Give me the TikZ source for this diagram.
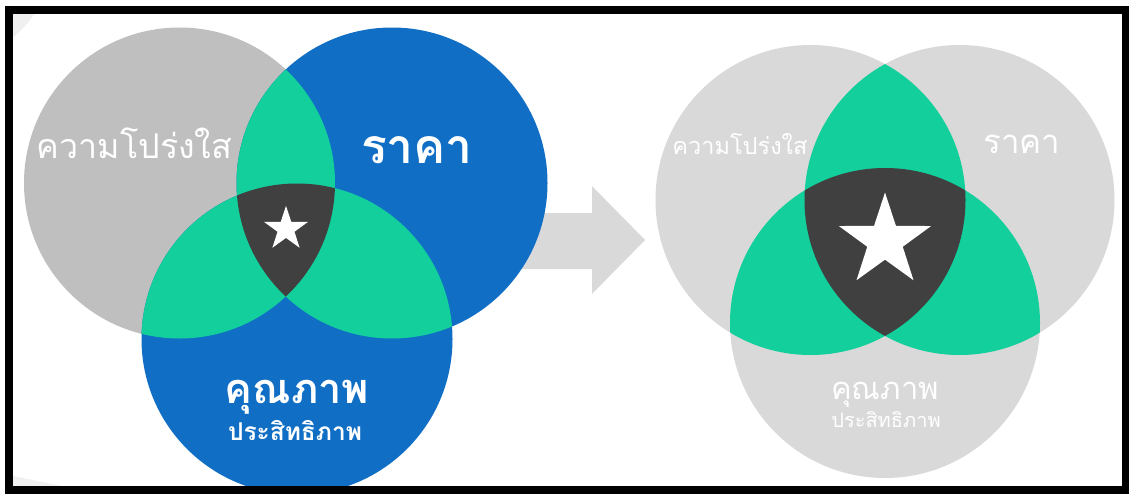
\documentclass[tikz,border=0pt]{standalone}
\usepackage{fontspec}
\newfontfamily\thaifont[Script=Thai]{Loma}
\definecolor{venn_blue}{RGB}{16, 110, 197}
\definecolor{venn_gray}{RGB}{191, 191, 191}
\definecolor{venn_green}{RGB}{18, 207, 155}
\definecolor{venn_dark}{RGB}{64, 64, 64}
\definecolor{venn_light}{RGB}{217, 217, 217}
\definecolor{venn_faint}{RGB}{240, 240, 240}
\usetikzlibrary{shapes.geometric}

\begin{document}
\begin{tikzpicture}[x=1pt, y=-1pt,
    lbl/.style={text=white, inner sep=0pt, anchor=base},
    starmark/.style={star, star points=5, star point ratio=2.6,
      fill=white, inner sep=0pt}]
  \useasboundingbox (0,0) rectangle (1129,493);
  \fill[white] (0,0) rectangle (1129,493);

  % --- faint slide background ---
  \begin{scope}
    \clip (13,13) rectangle (1121,486);
    \fill[venn_faint] (-60,-50) circle[radius=114pt];
    \fill[venn_faint] (13,476) -- (62,486) -- (13,486) -- cycle;
  \end{scope}

  % --- Arrow ---
  \fill[venn_light] (480,213) -- (592,213) -- (592,186) -- (645,240)
    -- (592,294) -- (592,269) -- (480,269) -- cycle;

  % --- Left Venn ---
  \coordinate (lg) at (179.5,183);
  \coordinate (lb) at (392,183);
  \coordinate (lq) at (297,339);
  \fill[venn_gray] (lg) circle[radius=155.5pt];
  \fill[venn_blue] (lb) circle[radius=155.5pt];
  \fill[venn_blue] (lq) circle[radius=155.5pt];
  % pairwise overlaps
  \begin{scope}
    \clip (lg) circle[radius=155.5pt];
    \fill[venn_green] (lb) circle[radius=155.5pt];
    \fill[venn_green] (lq) circle[radius=155.5pt];
  \end{scope}
  \begin{scope}
    \clip (lb) circle[radius=155.5pt];
    \fill[venn_green] (lq) circle[radius=155.5pt];
  \end{scope}
  % triple overlap
  \begin{scope}
    \clip (lg) circle[radius=155.5pt];
    \clip (lb) circle[radius=155.5pt];
    \fill[venn_dark] (lq) circle[radius=155.5pt];
  \end{scope}
  \node[starmark, minimum size=46.4pt] (lstar) at (286,229) {};

  \node[lbl, font=\thaifont\fontsize{34}{38}\selectfont] (lclear) at (134.5,158) {ความโปร่งใส};
  \node[lbl, font=\thaifont\bfseries\fontsize{48}{54}\selectfont] (lprice) at (417,163) {ราคา};
  \node[lbl, font=\thaifont\bfseries\fontsize{41.5}{46}\selectfont] (lqual) at (297,403) {คุณภาพ};
  \node[lbl, font=\thaifont\bfseries\fontsize{24.5}{28}\selectfont] (leff) at (295,440) {ประสิทธิภาพ};

  % --- Right Venn ---
  \coordinate (rg) at (810.5,200);
  \coordinate (rb) at (959.5,200);
  \coordinate (rq) at (885,323);
  \foreach \c in {rg, rb, rq} {
    \fill[venn_light] (\c) circle[radius=155pt];
  }
  % pairwise overlaps
  \begin{scope}
    \clip (rg) circle[radius=155pt];
    \fill[venn_green] (rb) circle[radius=155pt];
    \fill[venn_green] (rq) circle[radius=155pt];
  \end{scope}
  \begin{scope}
    \clip (rb) circle[radius=155pt];
    \fill[venn_green] (rq) circle[radius=155pt];
  \end{scope}
  % triple overlap
  \begin{scope}
    \clip (rg) circle[radius=155pt];
    \clip (rb) circle[radius=155pt];
    \fill[venn_dark] (rq) circle[radius=155pt];
  \end{scope}
  \node[starmark, minimum size=97pt] (rstar) at (885,241) {};

  \node[lbl, font=\thaifont\fontsize{23.5}{26}\selectfont] (rclear) at (740,154) {ความโปร่งใส};
  \node[lbl, font=\thaifont\fontsize{33}{36}\selectfont] (rprice) at (1022,153) {ราคา};
  \node[lbl, font=\thaifont\fontsize{31}{34}\selectfont] (rqual) at (885,399) {คุณภาพ};
  \node[lbl, font=\thaifont\fontsize{20}{22}\selectfont] (reff) at (886,427) {ประสิทธิภาพ};

  % --- Frame ---
  \draw[line width=8pt] (9,9.5) rectangle (1125.5,489.5);
\end{tikzpicture}
\end{document}
